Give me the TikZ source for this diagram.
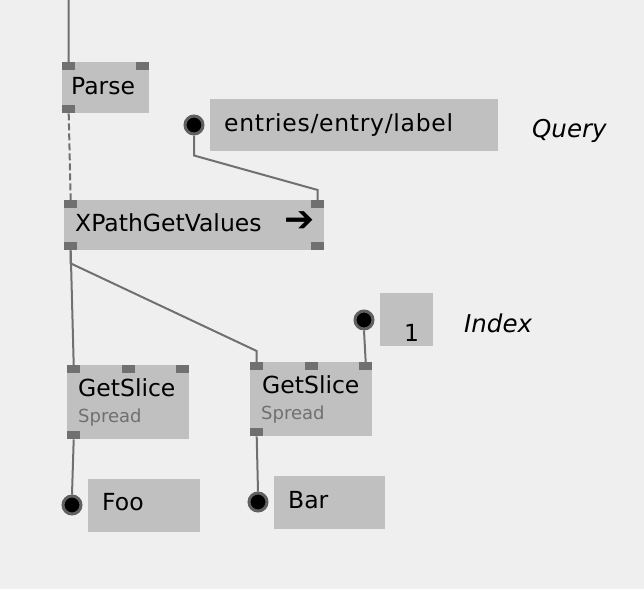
\documentclass[tikz,border=0pt]{standalone}
\usepackage{fontspec}
\setmainfont{DejaVu Sans}
\usepackage{tikz}
\usetikzlibrary{calc}
\definecolor{bg}{RGB}{239,239,239}
\definecolor{boxgray}{RGB}{192,192,192}
\definecolor{portgray}{RGB}{112,112,112}
\definecolor{ringgray}{RGB}{96,96,96}
\tikzstyle{box} = [rectangle, fill=boxgray, anchor=north west, inner sep=0pt]
\tikzstyle{port} = [rectangle, fill=portgray, anchor=north west, inner sep=0pt,
minimum width=13pt, minimum height=8pt]
\tikzstyle{io} = [circle, fill=black, draw=ringgray, line width=3pt, inner sep=0pt, minimum size=18pt]
\tikzstyle{wire} = [line width=2pt, draw=portgray]
\tikzstyle{txt} = [anchor=base west, inner sep=0pt, font=\fontsize{23.5}{26}\selectfont]
\tikzstyle{small} = [anchor=base west, inner sep=0pt, text=portgray, font=\fontsize{18}{20}\selectfont]
\tikzstyle{note} = [anchor=base west, inner sep=0pt, font=\fontsize{24.5}{28}\selectfont\itshape]

\begin{document}
\begin{tikzpicture}[x=1pt, y=-1pt]
        \fill[bg] (0,0) rectangle (644,589);
        \useasboundingbox (0,0) rectangle (644,589);

        % boxes
        \node (P) [box, minimum width=87pt, minimum height=51pt] at (62,62) {};
        \node (Q) [box, minimum width=288pt, minimum height=52pt] at (210,99) {};
        \node (X) [box, minimum width=260pt, minimum height=50pt] at (64,200) {};
        \node (I) [box, minimum width=53pt, minimum height=53pt] at (380,293) {};
        \node (G1) [box, minimum width=122pt, minimum height=74pt] at (67,365) {};
        \node (G2) [box, minimum width=122pt, minimum height=74pt] at (250,362) {};
        \node (F) [box, minimum width=112pt, minimum height=53pt] at (88,479) {};
        \node (B) [box, minimum width=111pt, minimum height=53pt] at (274,476) {};

        % ports
        \node (P-i) [port] at (P.north west) {};
        \node (P-r) [port, anchor=north east] at (P.north east) {};
        \node (P-o) [port, anchor=south west] at (P.south west) {};
        \node (X-i) [port] at (X.north west) {};
        \node (X-q) [port, anchor=north east] at (X.north east) {};
        \node (X-o) [port, anchor=south west] at (X.south west) {};
        \node (X-r) [port, anchor=south east] at (X.south east) {};
        \node (G1-i) [port] at (G1.north west) {};
        \node (G1-m) [port, anchor=north] at (G1.north) {};
        \node (G1-r) [port, anchor=north east] at (G1.north east) {};
        \node (G1-o) [port, anchor=south west] at (G1.south west) {};
        \node (G2-i) [port] at (G2.north west) {};
        \node (G2-m) [port, anchor=north] at (G2.north) {};
        \node (G2-r) [port, anchor=north east] at (G2.north east) {};
        \node (G2-o) [port, anchor=south west] at (G2.south west) {};

        % io circles
        \node (Qc) [io] at (194,125) {};
        \node (Ic) [io] at (364,320) {};
        \node (Fc) [io] at (72,505) {};
        \node (Bc) [io] at (258,502) {};

        % texts
        \node (tP) [txt] at (71,94) {Parse};
        \node (tQ) [txt] at (224,131) {\addfontfeature{LetterSpace=3}entries/entry/label};
        \node (tX) [txt] at (75,231) {XPathGetValues\hspace{23pt}{\fontsize{36}{36}\selectfont ➔}};
        \node (tI) [txt] at (404,341) {1};
        \node (tG1) [txt] at (78,396) {GetSlice};
        \node (sG1) [small] at (78,422) {Spread};
        \node (tG2) [txt] at (262,393) {GetSlice};
        \node (sG2) [small] at (261,419) {Spread};
        \node (tF) [txt] at (102,510) {Foo};
        \node (tB) [txt] at (288,508) {Bar};
        \node (nQ) [note] at (532,137) {Query};
        \node (nI) [note] at (464,332) {Index};

        \coordinate (top) at (68.5,0);
        \draw [wire] (top) -- (P-i.north);
        \draw [wire, dash pattern=on 7pt off 3pt] (P-o.south) -- (X-i.north);
        \draw [wire] (Qc.south) -- ++(0,20) -- ($(X-q.north)+(0,-10)$) -- (X-q.north);
        \draw [wire] (X-o.south) -- (G1-i.north);
        \draw [wire] (X-o.south) -- ++(0,13) -- ($(G2-i.north)+(0,-11)$) -- (G2-i.north);
        \draw [wire] (Ic.south) -- (G2-r.north);
        \draw [wire] (G1-o.south) -- (Fc.north);
        \draw [wire] (G2-o.south) -- (Bc.north);

    \end{tikzpicture}
\end{document}
